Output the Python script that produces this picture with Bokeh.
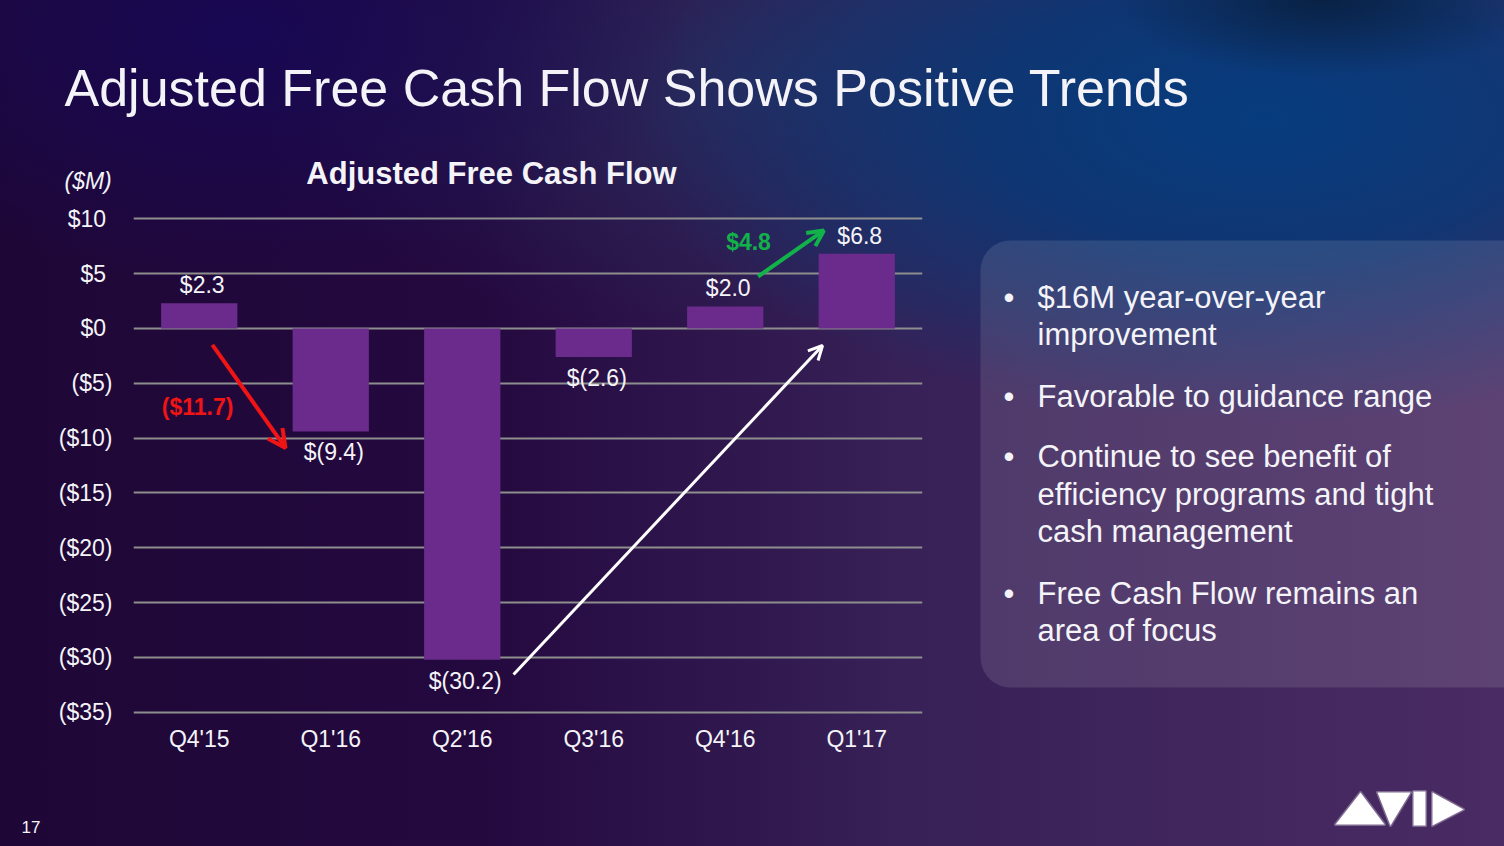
from bokeh.plotting import figure
from bokeh.layouts import column, row
from bokeh.models import (FactorRange, Range1d, FixedTicker, CustomJSTickFormatter, Label,
                          BoxAnnotation, PolyAnnotation, Arrow, OpenHead, ColumnDataSource)
from bokeh.core.properties import value
from bokeh.embed import file_html
from bokeh.resources import INLINE

# ---------------- data ----------------
quarters = ["Q4'15", "Q1'16", "Q2'16", "Q3'16", "Q4'16", "Q1'17"]
fcf = [2.3, -9.4, -30.2, -2.6, 2.0, 6.8]
y_ticks = [-35, -30, -25, -20, -15, -10, -5, 0, 5, 10]
slide_title = "Adjusted Free Cash Flow Shows Positive Trends"
chart_title = "Adjusted Free Cash Flow"
unit_label = "($M)"
decline_label = "($11.7)"
gain_label = "$4.8"
page_number = "17"
bullets = [
    ["$16M year-over-year", "improvement"],
    ["Favorable to guidance range"],
    ["Continue to see benefit of", "efficiency programs and tight", "cash management"],
    ["Free Cash Flow remains an", "area of focus"],
]

FONT = "Liberation Sans"
WHITE = "#f4f4f8"
BAR = "#6b2b8c"
RED = "#f01414"
GREEN = "#12b24a"

# vertical split of the slide (pixels)
TOP_H = 200            # title strip
MID_H = 566            # chart row
BORDER_T, BORDER_B = 16, 52


def canvas(x0, x1, y0, y1, bt=0, bb=0):
    """Transparent figure whose data coordinates equal slide pixel coordinates."""
    f = figure(width=x1 - x0, height=y1 - y0 + bt + bb,
               x_range=Range1d(x0, x1), y_range=Range1d(y1, y0),
               x_axis_type=None, y_axis_type=None,
               min_border_left=0, min_border_right=0, min_border_top=bt, min_border_bottom=bb,
               output_backend="svg", toolbar_location=None, tools="")
    f.border_fill_alpha = 0
    f.background_fill_alpha = 0
    f.outline_line_color = None
    return f


def label(f, text, X, Y, size, style="normal", align="left", color=WHITE):
    f.add_layout(Label(x=X, y=Y, text=text, text_font=FONT, text_font_size=size,
                       text_font_style=style, text_align=align, text_baseline="middle",
                       text_color=color))


# ---------------- top strip: titles ----------------
top = canvas(0, 1504, 0, TOP_H)
label(top, slide_title, 64, 87, "52px")
label(top, chart_title, 491, 173, "31px", style="bold", align="center")
label(top, unit_label, 64, 180, "23px", style="italic")

# ---------------- chart ----------------
p = figure(width=940, height=MID_H, x_range=FactorRange(*quarters), y_range=Range1d(-35.2, 10.2),
           min_border_left=133, min_border_right=18,
           min_border_top=BORDER_T, min_border_bottom=BORDER_B,
           output_backend="svg", toolbar_location=None, tools="")
p.border_fill_alpha = 0
p.background_fill_alpha = 0
p.outline_line_color = None

p.yaxis.ticker = FixedTicker(ticks=y_ticks)
# accounting style: negatives in parentheses, positives padded so digits line up
p.yaxis.formatter = CustomJSTickFormatter(
    code="return tick < 0 ? '($' + (-tick) + ')' : '$' + tick + '\\u00a0';")
for ax in (p.xaxis[0], p.yaxis[0]):
    ax.axis_line_color = None
    ax.major_tick_line_color = None
    ax.minor_tick_line_color = None
    ax.major_label_text_font = FONT
    ax.major_label_text_font_size = "23px"
    ax.major_label_text_color = WHITE
p.yaxis.major_label_standoff = 15
p.xaxis.major_label_standoff = 5

p.xgrid.grid_line_color = None
p.ygrid.ticker = FixedTicker(ticks=y_ticks)
p.ygrid.grid_line_color = "#8e8e8e"
p.ygrid.grid_line_width = 2

labels = [("$%.1f" % v) if v >= 0 else ("$(%.1f)" % -v) for v in fcf]
src = ColumnDataSource(dict(q=quarters, v=fcf, lab=labels,
                            off=[-18 if v >= 0 else 21 for v in fcf]))
p.vbar(x="q", top="v", bottom=0, width=0.58, source=src, fill_color=BAR, line_color=None)
p.text(x="q", y="v", text="lab", y_offset="off", x_offset=3, source=src,
       text_align="center", text_baseline="middle",
       text_font=value(FONT), text_font_size="23px", text_color=WHITE)

p.add_layout(Arrow(x_start=0.60, y_start=-1.5, x_end=1.156, y_end=-10.9,
                   line_color=RED, line_width=4,
                   end=OpenHead(size=18, line_color=RED, line_width=4)))
p.add_layout(Arrow(x_start=2.89, y_start=-31.55, x_end=5.24, y_end=-1.56,
                   line_color="white", line_width=3,
                   end=OpenHead(size=14, line_color="white", line_width=3)))
p.add_layout(Arrow(x_start=4.75, y_start=4.73, x_end=5.25, y_end=8.93,
                   line_color=GREEN, line_width=4,
                   end=OpenHead(size=16, line_color=GREEN, line_width=4)))
p.add_layout(Label(x=0.487, y=-7.2, text=decline_label, text_align="center",
                   text_baseline="middle", text_font=FONT, text_font_size="23px",
                   text_font_style="bold", text_color=RED))
p.add_layout(Label(x=4.677, y=7.92, text=gain_label, text_align="center",
                   text_baseline="middle", text_font=FONT, text_font_size="23px",
                   text_font_style="bold", text_color=GREEN))

# ---------------- right panel: bullets ----------------
rp = canvas(940, 1504, TOP_H + BORDER_T, TOP_H + MID_H - BORDER_B, bt=BORDER_T, bb=BORDER_B)
rp.add_layout(BoxAnnotation(left=980, right=1540, top=240, bottom=687,
                            fill_color="white", fill_alpha=0.11, line_color=None,
                            border_radius=30))
centers = [[297, 334], [396], [456, 494, 531], [593, 630]]
for lines, ys in zip(bullets, centers):
    label(rp, "\u2022", 1003, ys[0], "31px")
    for t, yy in zip(lines, ys):
        label(rp, t, 1037, yy, "31px")

# ---------------- bottom strip: page number + logo ----------------
bot = canvas(0, 1504, TOP_H + MID_H, 846)
label(bot, page_number, 21, 826, "17px")
logo = [
    [(1335, 824), (1360, 792), (1384, 824)],
    [(1377, 792), (1410, 792), (1390, 825)],
    [(1413, 791), (1425, 791), (1425, 825), (1413, 825)],
    [(1432, 792), (1463, 809), (1432, 825)],
]
for shape in logo:
    bot.add_layout(PolyAnnotation(xs=[a for a, b in shape], ys=[b for a, b in shape],
                                  fill_color="white", fill_alpha=1, line_color="white",
                                  line_width=3, line_join="round"))

# ---------------- assemble ----------------
layout = column(top, row(p, rp, spacing=0), bot, spacing=0)
layout.styles = {
    "background": (
        "radial-gradient(ellipse 14% 9% at 88% 0%, rgba(6,26,52,0.75) 0%, rgba(6,26,52,0) 100%),"
        "radial-gradient(ellipse 42% 36% at 84% 14%, rgba(6,60,126,1) 0%, rgba(8,56,118,0.85) 45%, rgba(8,56,118,0) 100%),"
        "radial-gradient(ellipse 30% 30% at 16% 4%, rgba(22,8,88,0.85) 0%, rgba(22,8,88,0) 100%),"
        "radial-gradient(ellipse 35% 30% at 52% 10%, rgba(40,52,100,0.65) 0%, rgba(40,52,100,0) 100%),"
        "linear-gradient(to right, #1e0736 0%, #24093f 32%, #372157 60%, #4a2b63 100%)"
    )
}

open("out.html", "w").write(file_html(layout, INLINE))
